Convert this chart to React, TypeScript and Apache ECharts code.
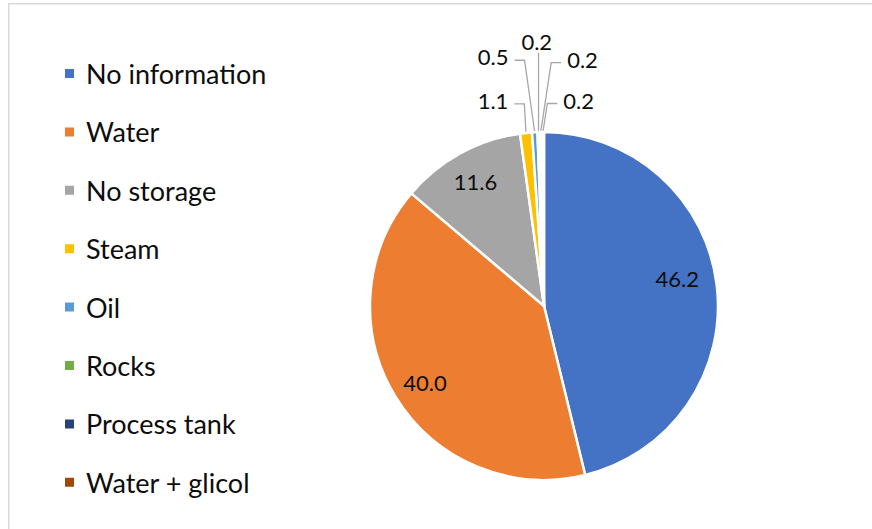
import React, { useEffect, useRef } from 'react';
import * as echarts from 'echarts';

const categories = ['No information', 'Water', 'No storage', 'Steam', 'Oil', 'Rocks', 'Process tank', 'Water + glicol'];
const shares = [46.2, 40.0, 11.6, 1.1, 0.5, 0.2, 0.2, 0.2];
const colors = ['#4472C4', '#ED7D31', '#A5A5A5', '#FFC000', '#5B9BD5', '#70AD47', '#264478', '#9E480E'];
const insideLabelShown = [true, true, true, false, false, false, false, false];
// small nudges (px) of the inside labels
const insideLabelNudges = [[-8, -11], [2, 2], [0, 0]];
// offsets (px) of the outside labels from the slice's rim point
const outsideLabelOffsets: (number[] | null)[] = [null, null, null, [-33, -32.5], [-41.5, -75.5], [-1.8, -90.4], [41.8, -73], [35.8, -32]];

const CENTER = [544, 306];
const R = 174;
const FONT = 'Lato, "Open Sans", sans-serif';

export default function App() {
  const ref = useRef<HTMLDivElement>(null);
  useEffect(() => {
    if (!ref.current) return;
    const chart = echarts.init(ref.current, undefined, { renderer: 'svg' });
    chart.setOption({
      animation: false,
      backgroundColor: '#fff',
      graphic: [
        {
          type: 'rect',
          silent: true,
          shape: { x: 8.75, y: 3.75, width: 900, height: 600 },
          style: { fill: 'none', stroke: '#d9d9d9', lineWidth: 1.5 },
        },
      ],
      legend: {
        orient: 'vertical',
        left: 63,
        top: 58.5,
        padding: 0,
        itemWidth: 11,
        itemHeight: 11,
        itemGap: 28.4,
        icon: 'rect',
        selectedMode: false,
        data: categories,
        textStyle: { fontFamily: FONT, fontSize: 27, color: '#0d0d0d', lineHeight: 30, padding: [0, 0, 0, 6] },
      },
      series: [
        {
          type: 'pie',
          center: CENTER,
          radius: [0, R],
          startAngle: 90,
          clockwise: true,
          avoidLabelOverlap: false,
          itemStyle: { borderColor: '#fff', borderWidth: 2.5 },
          emphasis: { disabled: true },
          label: {
            show: true,
            position: 'outside',
            fontFamily: FONT,
            fontSize: 22,
            color: '#0d0d0d',
            formatter: (p: any) => Number(p.value).toFixed(1),
          },
          labelLine: { show: true, length: 10, length2: 10, lineStyle: { color: '#a6a6a6', width: 1.3 } },
          labelLayout: (p: any) => {
            const off = outsideLabelOffsets[p.dataIndex];
            const pts = p.labelLinePoints;
            if (!off || !pts) return {};
            const ax = pts[0][0];
            const ay = pts[0][1];
            const tx = ax + off[0];
            const ty = ay + off[1];
            const hw = p.labelRect.width / 2;
            let line;
            if (Math.abs(off[0]) < 6) {
              const yEnd = ty + 11;
              line = [[ax, ay], [ax, yEnd], [ax, yEnd]];
            } else {
              const s = off[0] < 0 ? 1 : -1;
              const endX = tx + s * (hw + 6);
              const elbowX = endX + s * 10;
              const ly = ty + 3.5;
              line = [[ax, ay], [elbowX, ly], [endX, ly]];
            }
            return { x: tx, y: ty, align: 'center', verticalAlign: 'middle', labelLinePoints: line };
          },
          data: categories.map((name, i) => ({
            name,
            value: shares[i],
            itemStyle: { color: colors[i] },
            label: { show: outsideLabelOffsets[i] != null },
            labelLine: { show: outsideLabelOffsets[i] != null },
          })),
        },
        {
          type: 'pie',
          center: CENTER,
          radius: [R * 0.6, R],
          startAngle: 90,
          clockwise: true,
          silent: true,
          avoidLabelOverlap: false,
          itemStyle: { color: 'rgba(0,0,0,0)', borderWidth: 0 },
          emphasis: { disabled: true },
          label: {
            show: true,
            position: 'inside',
            fontFamily: FONT,
            fontSize: 22,
            color: '#0d0d0d',
            formatter: (p: any) => Number(p.value).toFixed(1),
          },
          labelLine: { show: false },
          labelLayout: (p: any) => {
            const n = insideLabelNudges[p.dataIndex];
            return n ? { dx: n[0], dy: n[1] } : {};
          },
          data: categories.map((name, i) => ({
            name,
            value: shares[i],
            label: { show: insideLabelShown[i] },
          })),
        },
      ],
    });
    return () => chart.dispose();
  }, []);
  return <div ref={ref} style={{ position: 'fixed', left: 0, top: 0, width: 872, height: 529 }} />;
}
